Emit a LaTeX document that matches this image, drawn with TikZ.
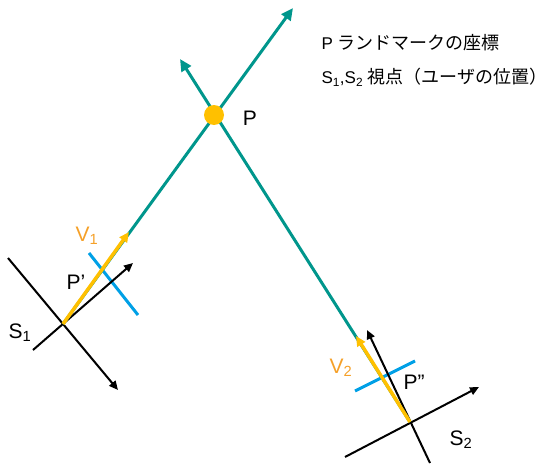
\documentclass[tikz,border=0pt]{standalone}
\usepackage{fontspec}
\setmainfont{Liberation Sans}
\newfontfamily\jpfont{Noto Sans CJK JP}
\usetikzlibrary{arrows.meta}

\definecolor{rayteal}{RGB}{0,150,140}
\definecolor{vecgold}{RGB}{255,192,0}
\definecolor{vecorange}{RGB}{245,160,40}
\definecolor{planeblue}{RGB}{0,160,230}

\begin{document}
\begin{tikzpicture}[x=1pt, y=-1pt,
  ray/.style={draw=rayteal, line width=3pt, -{Triangle[length=12pt,width=11pt]}},
  axisline/.style={draw=black, line width=2pt},
  axisarrow/.style={axisline, -{Triangle[length=9pt,width=8pt]}},
  vecline/.style={draw=vecgold, line width=3.5pt, -{Triangle[length=10pt,width=9pt]}},
  planeline/.style={draw=planeblue, line width=3pt},
  biglabel/.style={font=\fontsize{21}{25}\selectfont},
  legend/.style={font=\fontsize{17}{20}\selectfont, anchor=west}]
  \useasboundingbox (0,0) rectangle (555,466);
  % viewpoints and landmark
  \coordinate (S1) at (63,324);
  \coordinate (S2) at (410,422);
  \coordinate (tip1) at (293,8);
  \coordinate (tip2) at (180,59);
  % image planes
  \coordinate (b1a) at (89,253);
  \coordinate (b1b) at (138,315);
  \coordinate (b2a) at (355,391);
  \coordinate (b2b) at (415,361);
  \draw[planeline] (b1a) -- (b1b);
  \draw[planeline] (b2a) -- (b2b);
  % camera axes
  \coordinate (a1s) at (8,258);
  \coordinate (a1e) at (118,390);
  \coordinate (c1s) at (33,350);
  \coordinate (c1e) at (133,263);
  \draw[axisarrow] (a1s) -- (a1e);
  \draw[axisarrow] (c1s) -- (c1e);
  \coordinate (a2s) at (345,457);
  \coordinate (a2e) at (479,387);
  \coordinate (c2s) at (430,463);
  \coordinate (c2e) at (367,330);
  \draw[axisarrow] (a2s) -- (a2e);
  \draw[axisarrow] (c2s) -- (c2e);
  % rays
  \draw[ray] (S1) -- (tip1);
  \draw[ray] (S2) -- (tip2);
  % direction vectors
  \coordinate (v1) at (129,232);
  \coordinate (v2) at (356,336);
  \draw[vecline] (S1) -- (v1);
  \draw[vecline] (S2) -- (v2);
  \node[circle, fill=vecgold, minimum size=20pt, inner sep=0pt] (P) at (214,115) {};
  % labels
  \node[biglabel] (Plabel) at (250,118) {P};
  \node[biglabel] (P1label) at (76,282) {P'};
  \node[biglabel] (P2label) at (414,382) {P''};
  \node[biglabel] (S1label) at (20,333) {S\textsubscript{1}};
  \node[biglabel] (S2label) at (461,440) {S\textsubscript{2}};
  \node[biglabel, text=vecorange] (V1label) at (87,236) {V\textsubscript{1}};
  \node[biglabel, text=vecorange] (V2label) at (341,368) {V\textsubscript{2}};
  \node[legend] (leg1) at (318,43) {P {\jpfont\fontsize{18}{21}\selectfont ランドマークの座標}};
  \node[legend] (leg2) at (318,77) {S\textsubscript{1},S\textsubscript{2} {\jpfont\fontsize{18}{21}\selectfont 視点（ユーザの位置）}};
\end{tikzpicture}
\end{document}
